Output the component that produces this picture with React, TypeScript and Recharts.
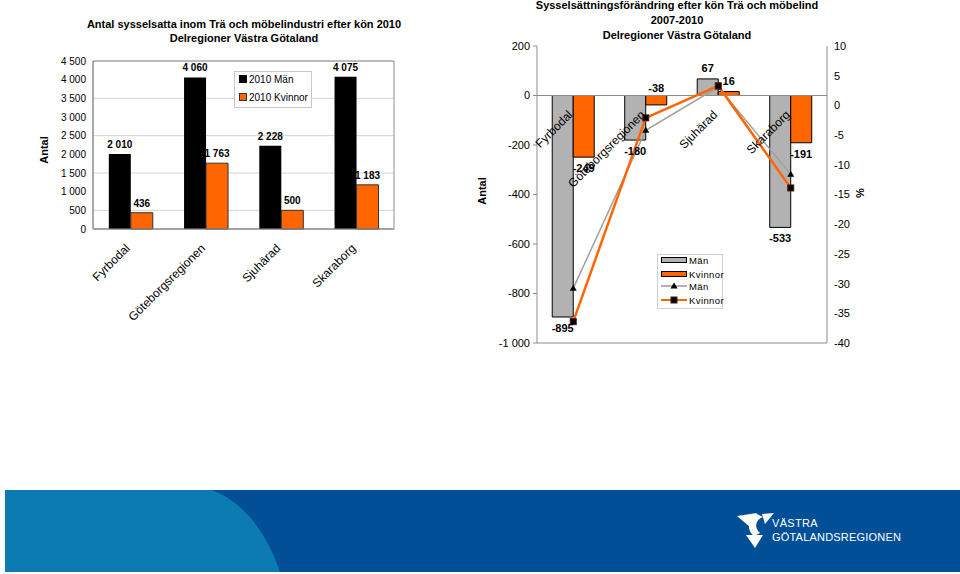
import React from "react";
import {
  Bar,
  BarChart,
  CartesianGrid,
  ComposedChart,
  LabelList,
  Legend,
  Line,
  ReferenceArea,
  ReferenceLine,
  XAxis,
  YAxis,
} from "recharts";

const FONT = '"Liberation Sans", Arial, Helvetica, sans-serif';
const ORANGE = "#ff6600";
const GREY_BAR = "#b2b2b2";
const AXIS = "#8c8c8c";

// delregioner
const regions = ["Fyrbodal", "Göteborgsregionen", "Sjuhärad", "Skaraborg"];

// antal sysselsatta 2010
const man2010 = [2010, 4060, 2228, 4075];
const kvinnor2010 = [436, 1763, 500, 1183];
const antalTicks = [0, 500, 1000, 1500, 2000, 2500, 3000, 3500, 4000, 4500];

// förändring 2007-2010, antal och procent
const manChange = [-895, -180, 67, -533];
const kvinnorChange = [-249, -38, 16, -191];
const manPct = [-30.8, -4.2, 3.1, -11.6];
const kvinnorPct = [-36.4, -2.1, 3.3, -13.9];
const changeTicks = [-1000, -800, -600, -400, -200, 0, 200];
const pctTicks = [-40, -35, -30, -25, -20, -15, -10, -5, 0, 5, 10];

const antalData = regions.map((region, i) => ({
  region,
  man: man2010[i],
  kvinnor: kvinnor2010[i],
}));

const changeData = regions.map((region, i) => ({
  region,
  man: manChange[i],
  kvinnor: kvinnorChange[i],
  manPct: manPct[i],
  kvinnorPct: kvinnorPct[i],
  zero: 0,
}));

// "4 500", "-1 000"
function fmt(n: number) {
  const s = String(Math.abs(n)).replace(/\B(?=(\d{3})+(?!\d))/g, " ");
  return (n < 0 ? "-" : "") + s;
}

function RotatedTick({ x, y, payload }: any) {
  return (
    <g transform={`translate(${x},${y + 12})`}>
      <text textAnchor="end" transform="rotate(-45)" fontSize={12} fill="#000">
        {payload.value}
      </text>
    </g>
  );
}

// regionnamn vid nollinjen i högra diagrammet
function RegionLabel(props: any) {
  const vb = props.viewBox ?? props;
  return (
    <g transform={`translate(${vb.x},${vb.y + 20})`}>
      <text textAnchor="end" transform="rotate(-45)" fontSize={12} fill="#000">
        {props.value}
      </text>
    </g>
  );
}

function AntalLabel(props: any) {
  const vb = props.viewBox ?? props;
  const top = Math.min(vb.y, vb.y + vb.height);
  return (
    <text
      x={vb.x + vb.width / 2}
      y={top - 6}
      textAnchor="middle"
      fontSize={10}
      fontWeight="bold"
      fill="#000"
    >
      {fmt(Number(props.value))}
    </text>
  );
}

function ChangeLabel(props: any) {
  const vb = props.viewBox ?? props;
  const { x, y, width, height } = vb;
  const value = Number(props.value);
  const top = Math.min(y, y + height);
  const bottom = Math.max(y, y + height);
  let ty;
  if (value >= 0) ty = top - 7;
  else if (bottom - top < 15) ty = top - 4;
  else ty = bottom + 15;
  return (
    <text
      x={x + width / 2}
      y={ty}
      textAnchor="middle"
      fontSize={11}
      fontWeight="bold"
      fill="#000"
    >
      {fmt(value)}
    </text>
  );
}

function TriangleDot({ cx, cy }: any) {
  if (cx == null || cy == null) return null;
  return (
    <path
      d={`M${cx},${cy - 3.5} L${cx + 3.5},${cy + 2.5} L${cx - 3.5},${cy + 2.5} Z`}
      fill="#000"
    />
  );
}

function SquareDot({ cx, cy }: any) {
  if (cx == null || cy == null) return null;
  return <rect x={cx - 3} y={cy - 3} width={6} height={6} fill="#000" stroke="#4a1a00" />;
}

function AntalLegend() {
  const items = [
    { label: "2010 Män", fill: "#000", stroke: "#000" },
    { label: "2010 Kvinnor", fill: ORANGE, stroke: "#333" },
  ];
  return (
    <svg width={79} height={38} style={{ display: "block" }}>
      <rect x={0.5} y={0.5} width={77} height={36} fill="#fff" stroke="#c8c8c8" />
      {items.map((it, i) => {
        const cy = 8 + i * 18;
        return (
          <g key={it.label}>
            <rect x={5.5} y={cy - 3.5} width={7} height={7} fill={it.fill} stroke={it.stroke} />
            <text x={15} y={cy + 3.5} fontSize={10} fill="#000">
              {it.label}
            </text>
          </g>
        );
      })}
    </svg>
  );
}

function ChangeLegend() {
  return (
    <svg width={67} height={56} style={{ display: "block" }}>
      <rect x={0.5} y={0.5} width={65} height={54} fill="#fff" stroke="#d0d0d0" />
      <rect x={4.5} y={3.5} width={25} height={5} fill={GREY_BAR} stroke="#000" />
      <rect x={4.5} y={17.5} width={25} height={5} fill={ORANGE} stroke="#000" />
      <line x1={4} y1={32} x2={30} y2={32} stroke="#999" strokeWidth={1.5} />
      <TriangleDot cx={17} cy={32} />
      <line x1={4} y1={46} x2={30} y2={46} stroke={ORANGE} strokeWidth={2} />
      <SquareDot cx={17} cy={46} />
      {["Män", "Kvinnor", "Män", "Kvinnor"].map((t, i) => (
        <text key={i} x={32} y={[9.5, 23.5, 35.5, 49.5][i]} fontSize={9.5} letterSpacing={0.4} fill="#000">
          {t}
        </text>
      ))}
    </svg>
  );
}

function AxisTitle({ x, y, text, angle = -90 }: any) {
  return (
    <div
      style={{
        position: "absolute",
        left: x,
        top: y,
        transform: `translate(-50%,-50%) rotate(${angle}deg)`,
        fontSize: 11,
        fontWeight: "bold",
        whiteSpace: "nowrap",
      }}
    >
      {text}
    </div>
  );
}

function Footer() {
  return (
    <svg
      width={960}
      height={574}
      style={{ position: "absolute", left: 0, top: 0, pointerEvents: "none" }}
    >
      <rect x={5} y={490} width={955} height={82} fill="#0b7bb1" />
      <path d="M212,490 Q258,508 280,572 L960,572 L960,490 Z" fill="#004f97" />
      <g fill="#fff">
        <path d="M737,516 L757,513 L750,527 Z" />
        <path d="M757,514 C748,519 746,530 754,536 L760,533 C754,528 755,520 763,517 Z" />
        <path d="M762,514 L774,513 L765,524 Z" />
        <path d="M746,535 L763,535 L755,548 Z" />
        <text x={772} y={527} fontSize={11} letterSpacing={0.3}>
          VÄSTRA
        </text>
        <text x={772} y={541} fontSize={11} letterSpacing={0.2}>
          GÖTALANDSREGIONEN
        </text>
      </g>
    </svg>
  );
}

export default function App() {
  return (
    <div
      style={{
        position: "absolute",
        left: 0,
        top: 0,
        width: 960,
        height: 574,
        background: "#fff",
        fontFamily: FONT,
        color: "#000",
        overflow: "hidden",
      }}
    >
      <Footer />

      <div
        style={{
          position: "absolute",
          left: 0,
          top: 17,
          width: 488,
          textAlign: "center",
          fontSize: 11,
          fontWeight: "bold",
          lineHeight: "14px",
        }}
      >
        Antal sysselsatta inom Trä och möbelindustri efter kön 2010
        <br />
        Delregioner Västra Götaland
      </div>
      <AxisTitle x={44} y={150} text="Antal" />

      <div style={{ position: "absolute", left: 0, top: 0 }}>
        <BarChart
          width={480}
          height={340}
          data={antalData}
          margin={{ top: 61, right: 86, bottom: 0, left: 0 }}
          barCategoryGap="21%"
          barGap={0}
        >
          <CartesianGrid vertical={false} stroke="#d4d4d4" />
          <XAxis
            dataKey="region"
            interval={0}
            height={111}
            tickLine={false}
            axisLine={{ stroke: AXIS }}
            tick={<RotatedTick />}
          />
          <YAxis
            domain={[0, 4500]}
            ticks={antalTicks}
            tickFormatter={fmt}
            width={93}
            tickLine={false}
            tickSize={5}
            tickMargin={2}
            axisLine={{ stroke: AXIS }}
            tick={{ fontSize: 10, fill: "#000" }}
          />
          <ReferenceArea y1={0} y2={4500} fill="none" stroke={AXIS} />
          <Bar dataKey="man" fill="#000" isAnimationActive={false}>
            <LabelList dataKey="man" content={AntalLabel} />
          </Bar>
          <Bar dataKey="kvinnor" fill={ORANGE} stroke="#333" isAnimationActive={false}>
            <LabelList dataKey="kvinnor" content={AntalLabel} />
          </Bar>
          <Legend
            layout="vertical"
            align="center"
            verticalAlign="middle"
            content={() => <AntalLegend />}
            wrapperStyle={{ left: 234, top: 71, width: 79, height: 38 }}
          />
        </BarChart>
      </div>

      <div
        style={{
          position: "absolute",
          left: 477,
          top: -2,
          width: 400,
          textAlign: "center",
          fontSize: 11,
          fontWeight: "bold",
          lineHeight: "15px",
        }}
      >
        Sysselsättningsförändring efter kön Trä och möbelind
        <br />
        2007-2010
        <br />
        Delregioner Västra Götaland
      </div>
      <AxisTitle x={482} y={191} text="Antal" />
      <AxisTitle x={860} y={193} text="%" />

      <div style={{ position: "absolute", left: 480, top: 0 }}>
        <ComposedChart
          width={480}
          height={360}
          data={changeData}
          margin={{ top: 46, right: 93, bottom: 0, left: 0 }}
          barCategoryGap="21%"
          barGap={0}
        >
          <XAxis
            dataKey="region"
            height={17}
            tick={false}
            tickLine={false}
            axisLine={{ stroke: AXIS }}
          />
          <YAxis
            yAxisId="left"
            domain={[-1000, 200]}
            ticks={changeTicks}
            tickFormatter={fmt}
            width={57}
            tickSize={4}
            tickMargin={3}
            tickLine={{ stroke: AXIS }}
            axisLine={{ stroke: AXIS }}
            tick={{ fontSize: 11, fill: "#000" }}
          />
          <YAxis
            yAxisId="right"
            orientation="right"
            domain={[-40, 10]}
            ticks={pctTicks}
            width={40}
            tickSize={5}
            tickMargin={2}
            tickLine={false}
            axisLine={{ stroke: AXIS }}
            tick={{ fontSize: 11, fill: "#000" }}
          />
          <ReferenceLine yAxisId="left" y={0} stroke={AXIS} />
          <Bar yAxisId="left" dataKey="man" fill={GREY_BAR} stroke="#000" isAnimationActive={false}>
            <LabelList dataKey="man" content={ChangeLabel} />
          </Bar>
          <Bar yAxisId="left" dataKey="kvinnor" fill={ORANGE} stroke="#000" isAnimationActive={false}>
            <LabelList dataKey="kvinnor" content={ChangeLabel} />
          </Bar>
          <Line
            yAxisId="left"
            dataKey="zero"
            stroke="none"
            dot={false}
            activeDot={false}
            legendType="none"
            isAnimationActive={false}
          >
            <LabelList dataKey="region" content={RegionLabel} />
          </Line>
          <Line
            yAxisId="right"
            dataKey="manPct"
            stroke="#a0a0a0"
            strokeWidth={1.5}
            dot={<TriangleDot />}
            activeDot={false}
            isAnimationActive={false}
          />
          <Line
            yAxisId="right"
            dataKey="kvinnorPct"
            stroke={ORANGE}
            strokeWidth={2.5}
            dot={<SquareDot />}
            activeDot={false}
            isAnimationActive={false}
          />
          <Legend
            layout="vertical"
            align="center"
            verticalAlign="middle"
            content={() => <ChangeLegend />}
            wrapperStyle={{ left: 177, top: 254, width: 67, height: 56 }}
          />
        </ComposedChart>
      </div>
    </div>
  );
}
